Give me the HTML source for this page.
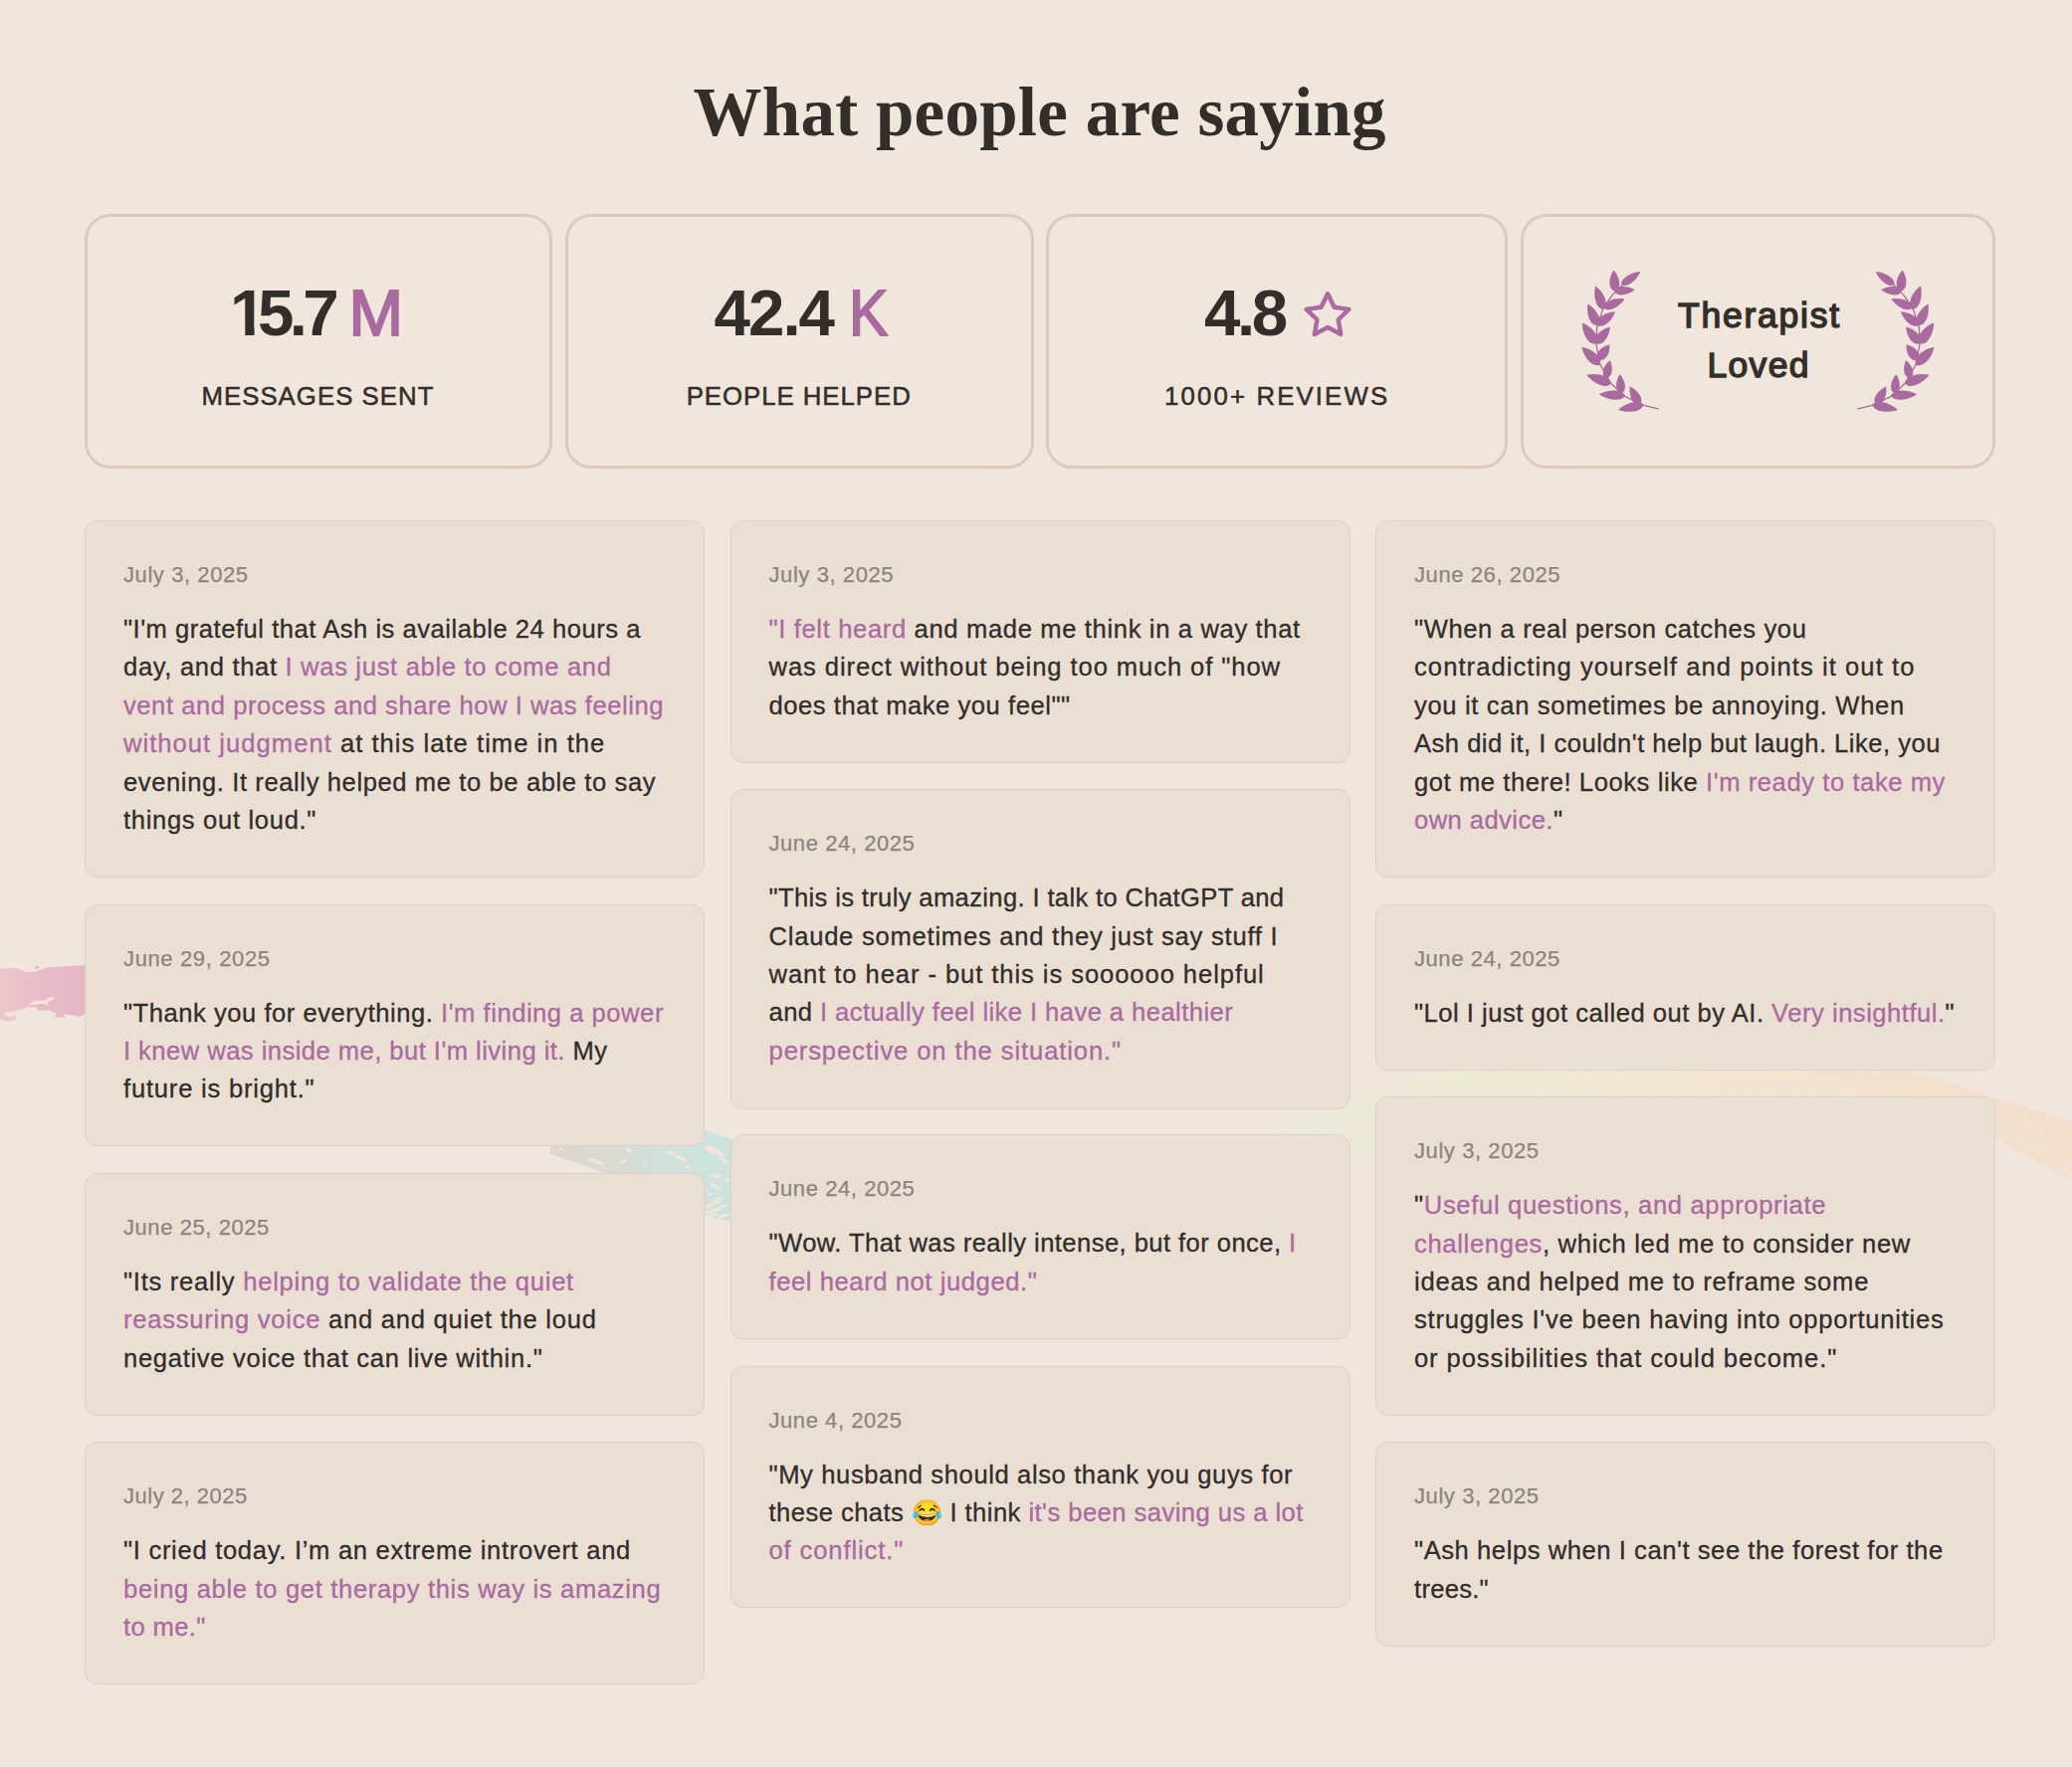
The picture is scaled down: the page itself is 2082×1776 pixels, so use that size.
<!DOCTYPE html>
<html lang="en"><head><meta charset="utf-8"><title>What people are saying</title>
<style>
*{box-sizing:border-box;margin:0;padding:0}
html,body{width:2082px;height:1776px;overflow:hidden}
body{background:#f0e6dc;font-family:"Liberation Sans",sans-serif;color:#332f2c;position:relative}
.a{position:absolute;white-space:nowrap;color:#332e2a}
.h1{font-family:"Liberation Serif",serif;font-weight:700;font-size:69px;line-height:90px}
.stat{position:absolute;top:215px;height:256px;border:3px solid #dccbbb;border-radius:26px}
.num{font-size:65.5px;line-height:80px;font-weight:700}
.one{display:inline-block;width:27.9px;letter-spacing:0;clip-path:polygon(0 0,40px 0,40px 55px,24.5px 55px,24.5px 80px,15.2px 80px,15.2px 55px,0 55px)}
.u{font-weight:400;color:#a96a9f;-webkit-text-stroke:2px #a96a9f}
.lab{font-size:25.8px;line-height:36px;-webkit-text-stroke:.5px #332e2a}
.tl{font-size:35.5px;line-height:50px;-webkit-text-stroke:1.4px #332e2a}
.card{position:absolute;width:623px;background:#ebdfd4;border:1px solid #ddd0c4;border-radius:12px;padding:37px 38px 0 38px}
.date{-webkit-text-stroke:.25px;font-size:22px;line-height:34px;color:#8c847d;letter-spacing:.35px;white-space:nowrap;margin-bottom:18px}
.q{font-size:25.6px;line-height:38.4px;white-space:nowrap;color:#312d2a;-webkit-text-stroke:.3px}
.q span{display:block;letter-spacing:.6px}
.q b{font-weight:400;color:#a96a9f}
.emo{font-style:normal;font-size:25px;letter-spacing:0;line-height:0}
.bg{position:absolute;left:0;top:0}
</style></head><body>
<svg class="bg" width="2082" height="1776" viewBox="0 0 2082 1776">
<defs>
<linearGradient id="gp" gradientUnits="userSpaceOnUse" x1="0" y1="0" x2="86" y2="0"><stop offset="0" stop-color="#edc7cc"/><stop offset=".55" stop-color="#e8b9c6"/><stop offset="1" stop-color="#e6b8c4"/></linearGradient>
<linearGradient id="gt" gradientUnits="userSpaceOnUse" x1="553" y1="0" x2="700" y2="0"><stop offset="0" stop-color="#dfd5cb"/><stop offset=".45" stop-color="#d8dad3"/><stop offset=".8" stop-color="#cfe1dc"/><stop offset="1" stop-color="#cde2dd"/></linearGradient>
<linearGradient id="gr" gradientUnits="userSpaceOnUse" x1="1270" y1="0" x2="2082" y2="0"><stop offset="0" stop-color="#e8ebd8"/><stop offset=".2" stop-color="#ecead3"/><stop offset=".45" stop-color="#f1e8ce"/><stop offset=".75" stop-color="#f3e0c8"/><stop offset="1" stop-color="#f3dcc6"/></linearGradient>
</defs>
<path d="M0 973.6L15.6 972.7L26.8 977L34.8 976.7L47.3 972.4L86 970L86 1018.4L80.3 1022.1L74 1020.6L62.9 1019.3L66 1022.5L54.8 1022.5L56.6 1017.5L52.9 1017.8L51.6 1015.6L38 1015.6L37.3 1012.8L29.2 1012.2L14.3 1016.5L2.5 1018.4L8.1 1022.1L15.6 1020.9L15.9 1024.6L8.1 1026.5L0 1024Z" fill="url(#gp)"/>
<path d="M29.2 1010.6L34.2 1006L46 1005.5L50 1002L55.4 1003.5L47 1008L49.8 1011.6L44 1009L36 1009.5Z" fill="#f0e6dc"/>
<rect x="35.2" y="970.8" width="3.6" height="3" fill="#e8b9c6"/>
<path d="M554 1140L720 1140L720 1200L667.6 1200L552.7 1159.5Z" fill="url(#gt)"/>
<path d="M700 1133L740 1146.5L740 1229L700 1220Z" fill="#cde2dd"/>
<g fill="#f0e6dc">
<ellipse cx="599" cy="1167.5" rx="9" ry="2.2" transform="rotate(18 599 1167.5)"/>
<ellipse cx="626" cy="1167.6" rx="3.6" ry="1.8" transform="rotate(-20 626 1167.6)"/>
<ellipse cx="632" cy="1156" rx="3.5" ry="1.5" transform="rotate(40 632 1156)"/>
<ellipse cx="674" cy="1158.8" rx="5" ry="1.8" transform="rotate(15 674 1158.8)"/>
<ellipse cx="685" cy="1164.5" rx="7" ry="2" transform="rotate(22 685 1164.5)"/>
<ellipse cx="691" cy="1173.5" rx="3.5" ry="1.2" transform="rotate(22 691 1173.5)"/>
<ellipse cx="648" cy="1170.5" rx="2.2" ry="1.2" transform="rotate(22 648 1170.5)"/>
<ellipse cx="563.5" cy="1154.5" rx="2" ry="1.2"/>
<ellipse cx="718" cy="1157" rx="11" ry="3.2" transform="rotate(27 718 1157)"/>
<ellipse cx="720" cy="1181.8" rx="5.5" ry="2" transform="rotate(5 720 1181.8)"/>
<ellipse cx="719" cy="1192.5" rx="7" ry="1.6" transform="rotate(30 719 1192.5)"/>
<ellipse cx="713" cy="1200" rx="3.5" ry="1" transform="rotate(20 713 1200)"/>
<ellipse cx="718" cy="1209.5" rx="8" ry="1.5" transform="rotate(-12 718 1209.5)"/>
<ellipse cx="716" cy="1217" rx="9" ry="1.6" transform="rotate(-14 716 1217)"/>
<ellipse cx="727" cy="1212.5" rx="5" ry="1.2" transform="rotate(-14 727 1212.5)"/>
<ellipse cx="714" cy="1221.5" rx="8" ry="1.8" transform="rotate(-10 714 1221.5)"/>
<ellipse cx="728" cy="1222" rx="6" ry="1.6" transform="rotate(-12 728 1222)"/>
<ellipse cx="722" cy="1205" rx="6" ry="1.2" transform="rotate(-16 722 1205)"/>
<ellipse cx="712" cy="1213" rx="4" ry="1.4" transform="rotate(-12 712 1213)"/>
<ellipse cx="727" cy="1166" rx="6" ry="1.6" transform="rotate(28 727 1166)"/>
<ellipse cx="730" cy="1186" rx="3" ry="1.2" transform="rotate(20 730 1186)"/>
</g>
<path d="M1262 1152Q1380 1075 1560 1062Q1800 1050 1921 1076L2082 1128L2082 1186L2005 1145Q1900 1105 1700 1108Q1500 1105 1390 1150L1330 1187Z" fill="url(#gr)" opacity=".8"/>
<g fill="none" stroke="#f0e6dc" opacity=".75">
<path d="M1270 1143Q1390 1075 1560 1067Q1800 1054 1960 1085L2082 1139" stroke-width="1.5" stroke-dasharray="16 10 24 48 6 6 34 6 16 34" stroke-dashoffset="64"/>
<path d="M1270 1149Q1390 1081 1560 1073Q1800 1060 1960 1091L2082 1145" stroke-width="1.5" stroke-dasharray="10 6 6 24 24 6 10 6 34 24" stroke-dashoffset="72"/>
<path d="M1270 1154Q1390 1086 1560 1078Q1800 1065 1960 1096L2082 1150" stroke-width="2" stroke-dasharray="6 10 48 48 34 6 34 34 24 6" stroke-dashoffset="5"/>
<path d="M1270 1159Q1390 1091 1560 1083Q1800 1070 1960 1101L2082 1155" stroke-width="2" stroke-dasharray="34 10 16 24 10 34 6 34 16 34" stroke-dashoffset="13"/>
<path d="M1270 1164Q1390 1096 1560 1088Q1800 1075 1960 1106L2082 1160" stroke-width="1.5" stroke-dasharray="34 34 48 10 16 6 34 48 6 34" stroke-dashoffset="79"/>
<path d="M1270 1169Q1390 1101 1560 1093Q1800 1080 1960 1111L2082 1165" stroke-width="2.5" stroke-dasharray="10 24 48 34 24 16 24 34 24 16" stroke-dashoffset="31"/>
<path d="M1270 1174Q1390 1106 1560 1098Q1800 1085 1960 1116L2082 1170" stroke-width="3" stroke-dasharray="10 48 10 6 34 16 34 24 16 48" stroke-dashoffset="36"/>
<path d="M1270 1179Q1390 1111 1560 1103Q1800 1090 1960 1121L2082 1175" stroke-width="1.5" stroke-dasharray="34 6 6 34 24 10 16 10 24 24" stroke-dashoffset="85"/>
<path d="M1270 1185Q1390 1117 1560 1109Q1800 1096 1960 1127L2082 1181" stroke-width="3" stroke-dasharray="6 34 34 16 16 48 16 34 24 34" stroke-dashoffset="8"/>
</g>
</svg>
<h1 id="h1" class="a h1" style="left:696.6px;top:67.5px;letter-spacing:0.253px;">What people are saying</h1>
<div class="stat" style="left:85px;width:470px"></div>
<div class="stat" style="left:568px;width:471px"></div>
<div class="stat" style="left:1051px;width:464px"></div>
<div class="stat" style="left:1528px;width:477px"></div>
<div id="n1" class="a num" style="left:231.1px;top:274.5px;letter-spacing:-4.7px;"><span class="one">1</span>5.7</div>
<div id="u1" class="a num u" style="left:350.4px;top:274.5px;">M</div>
<div id="n2" class="a num" style="left:717.6px;top:274.5px;letter-spacing:-2.028px;">42.4</div>
<div id="u2" class="a num u" style="left:852.6px;top:274.5px;transform:scaleX(.9);transform-origin:0 0;">K</div>
<div id="n3" class="a num" style="left:1210px;top:274.5px;letter-spacing:-3.381px;">4.8</div>
<div id="l1" class="a lab" style="left:202.4px;top:380px;letter-spacing:1.028px;">MESSAGES SENT</div>
<div id="l2" class="a lab" style="left:689.7px;top:380px;letter-spacing:0.955px;">PEOPLE HELPED</div>
<div id="l3" class="a lab" style="left:1170.1px;top:380px;letter-spacing:2.117px;">1000+ REVIEWS</div>
<div id="t1" class="a tl" style="left:1686px;top:292.4px;letter-spacing:1.752px;">Therapist</div>
<div id="t2" class="a tl" style="left:1715.5px;top:342.4px;letter-spacing:1.316px;">Loved</div>
<svg style="position:absolute;left:1304px;top:288px" width="60" height="56" viewBox="0 0 60 56"><polygon points="30.10,7.30 36.68,20.74 51.50,22.85 40.75,33.26 43.33,48.00 30.10,41.00 16.87,48.00 19.45,33.26 8.70,22.85 23.52,20.74" fill="none" stroke="#a96a9f" stroke-width="4.4" stroke-linejoin="round"/></svg>
<svg style="position:absolute;left:1570px;top:250px" width="120" height="180" viewBox="0 0 120 180"><path d="M53.0 42.6C60.4 39.5 57.4 27.8 51.4 21.4C46.5 28.6 45.3 40.6 53.0 42.6ZM41.5 60.9C47.6 55.5 40.9 42.9 33.1 37.2C30.7 46.6 33.4 60.6 41.5 60.9ZM35.5 77.1C41.1 71.4 33.6 60.2 25.5 55.5C23.8 64.7 27.4 77.7 35.5 77.1ZM34.1 95.4C39.0 88.4 29.1 77.9 19.9 74.4C19.7 84.3 25.8 97.3 34.1 95.4ZM37.8 116.7C41.1 108.8 29.2 100.4 19.4 98.8C21.3 108.6 30.0 120.2 37.8 116.7ZM48.6 135.8C48.4 127.6 34.1 124.6 24.4 126.8C30.3 134.8 43.1 141.8 48.6 135.8ZM63.0 147.8C60.2 140.4 45.4 141.6 36.7 146.2C44.8 151.8 59.4 154.7 63.0 147.8ZM81.3 156.7C76.8 150.3 63.1 155.3 56.0 162.0C65.2 165.3 79.7 164.3 81.3 156.7ZM59.4 36.1C65.3 39.8 75.0 30.9 78.4 22.9C69.8 23.4 58.1 29.3 59.4 36.1ZM52.2 42.8C55.1 49.0 66.6 46.3 72.8 41.3C65.9 37.2 54.2 36.3 52.2 42.8ZM41.5 59.4C46.7 64.5 57.8 57.8 62.6 50.4C54.0 48.8 41.4 52.1 41.5 59.4ZM35.0 76.9C41.5 80.9 50.3 71.6 53.0 63.2C44.1 63.5 32.8 69.6 35.0 76.9ZM33.6 95.4C41.1 98.2 47.4 87.3 47.9 78.4C39.2 80.4 29.5 88.5 33.6 95.4ZM36.2 111.7C43.6 114.3 48.2 104.4 47.4 96.3C39.4 98.0 31.4 105.4 36.2 111.7ZM43.6 130.2C50.7 129.5 51.2 119.0 47.9 112.1C41.8 116.7 37.6 126.4 43.6 130.2ZM59.1 145.5C65.7 142.6 62.9 132.0 57.6 126.3C53.2 132.8 52.2 143.7 59.1 145.5ZM77.8 156.6C82.8 150.9 75.4 141.8 67.7 138.5C66.5 146.8 70.4 157.9 77.8 156.6Z" fill="#a96a9f"/><path d="M96.3 160.9 L81.5 157.4 L63.2 148.7 L48.9 135.5 L37.7 116.1 L34.1 96.8 L34.6 79.5 L40.7 60.1 L49.9 46.9 L61.1 35.7" fill="none" stroke="#a96a9f" stroke-width="1.3" stroke-linejoin="round" stroke-linecap="round"/>
</svg>
<svg style="position:absolute;left:1843px;top:250px" width="120" height="180" viewBox="0 0 120 180"><g transform="translate(120,0) scale(-1,1)"><path d="M53.0 42.6C60.4 39.5 57.4 27.8 51.4 21.4C46.5 28.6 45.3 40.6 53.0 42.6ZM41.5 60.9C47.6 55.5 40.9 42.9 33.1 37.2C30.7 46.6 33.4 60.6 41.5 60.9ZM35.5 77.1C41.1 71.4 33.6 60.2 25.5 55.5C23.8 64.7 27.4 77.7 35.5 77.1ZM34.1 95.4C39.0 88.4 29.1 77.9 19.9 74.4C19.7 84.3 25.8 97.3 34.1 95.4ZM37.8 116.7C41.1 108.8 29.2 100.4 19.4 98.8C21.3 108.6 30.0 120.2 37.8 116.7ZM48.6 135.8C48.4 127.6 34.1 124.6 24.4 126.8C30.3 134.8 43.1 141.8 48.6 135.8ZM63.0 147.8C60.2 140.4 45.4 141.6 36.7 146.2C44.8 151.8 59.4 154.7 63.0 147.8ZM81.3 156.7C76.8 150.3 63.1 155.3 56.0 162.0C65.2 165.3 79.7 164.3 81.3 156.7ZM59.4 36.1C65.3 39.8 75.0 30.9 78.4 22.9C69.8 23.4 58.1 29.3 59.4 36.1ZM52.2 42.8C55.1 49.0 66.6 46.3 72.8 41.3C65.9 37.2 54.2 36.3 52.2 42.8ZM41.5 59.4C46.7 64.5 57.8 57.8 62.6 50.4C54.0 48.8 41.4 52.1 41.5 59.4ZM35.0 76.9C41.5 80.9 50.3 71.6 53.0 63.2C44.1 63.5 32.8 69.6 35.0 76.9ZM33.6 95.4C41.1 98.2 47.4 87.3 47.9 78.4C39.2 80.4 29.5 88.5 33.6 95.4ZM36.2 111.7C43.6 114.3 48.2 104.4 47.4 96.3C39.4 98.0 31.4 105.4 36.2 111.7ZM43.6 130.2C50.7 129.5 51.2 119.0 47.9 112.1C41.8 116.7 37.6 126.4 43.6 130.2ZM59.1 145.5C65.7 142.6 62.9 132.0 57.6 126.3C53.2 132.8 52.2 143.7 59.1 145.5ZM77.8 156.6C82.8 150.9 75.4 141.8 67.7 138.5C66.5 146.8 70.4 157.9 77.8 156.6Z" fill="#a96a9f"/><path d="M96.3 160.9 L81.5 157.4 L63.2 148.7 L48.9 135.5 L37.7 116.1 L34.1 96.8 L34.6 79.5 L40.7 60.1 L49.9 46.9 L61.1 35.7" fill="none" stroke="#a96a9f" stroke-width="1.3" stroke-linejoin="round" stroke-linecap="round"/>
</g></svg>
<div class="card" style="left:85px;top:523px;height:359.0px"><div class="date" id="d10" style="letter-spacing:0.578px;">July 3, 2025</div><div class="q"><span id="q100" style="letter-spacing:0.514px">"I'm grateful that Ash is available 24 hours a</span>
<span id="q101" style="letter-spacing:0.666px">day, and that <b>I was just able to come and</b></span>
<span id="q102" style="letter-spacing:0.537px"><b>vent and process and share how I was feeling</b></span>
<span id="q103" style="letter-spacing:1.021px"><b>without judgment</b> at this late time in the</span>
<span id="q104" style="letter-spacing:0.593px">evening. It really helped me to be able to say</span>
<span id="q105" style="letter-spacing:0.67px">things out loud."</span>
</div></div>
<div class="card" style="left:85px;top:908.6px;height:243.8px"><div class="date" id="d11" style="letter-spacing:0.628px;">June 29, 2025</div><div class="q"><span id="q110" style="letter-spacing:0.52px">"Thank you for everything. <b>I'm finding a power</b></span>
<span id="q111" style="letter-spacing:0.449px"><b>I knew was inside me, but I'm living it.</b> My</span>
<span id="q112" style="letter-spacing:0.784px">future is bright."</span>
</div></div>
<div class="card" style="left:85px;top:1179px;height:243.8px"><div class="date" id="d12" style="letter-spacing:0.569px;">June 25, 2025</div><div class="q"><span id="q120" style="letter-spacing:0.727px">"Its really <b>helping to validate the quiet</b></span>
<span id="q121" style="letter-spacing:0.74px"><b>reassuring voice</b> and and quiet the loud</span>
<span id="q122" style="letter-spacing:0.687px">negative voice that can live within."</span>
</div></div>
<div class="card" style="left:85px;top:1449.4px;height:243.8px"><div class="date" id="d13" style="letter-spacing:0.514px;">July 2, 2025</div><div class="q"><span id="q130" style="letter-spacing:0.694px">"I cried today. I’m an extreme introvert and</span>
<span id="q131" style="letter-spacing:0.658px"><b>being able to get therapy this way is amazing</b></span>
<span id="q132" style="letter-spacing:0.347px"><b>to me."</b></span>
</div></div>
<div class="card" style="left:733.5px;top:523px;height:243.8px"><div class="date" id="d20" style="letter-spacing:0.578px;">July 3, 2025</div><div class="q"><span id="q200" style="letter-spacing:0.638px"><b>"I felt heard</b> and made me think in a way that</span>
<span id="q201" style="letter-spacing:0.911px">was direct without being too much of "how</span>
<span id="q202" style="letter-spacing:0.528px">does that make you feel""</span>
</div></div>
<div class="card" style="left:733.5px;top:793.2px;height:321.6px"><div class="date" id="d21" style="letter-spacing:0.569px;">June 24, 2025</div><div class="q"><span id="q210" style="letter-spacing:0.35px">"This is truly amazing. I talk to ChatGPT and</span>
<span id="q211" style="letter-spacing:0.75px">Claude sometimes and they just say stuff I</span>
<span id="q212" style="letter-spacing:0.92px">want to hear - but this is soooooo helpful</span>
<span id="q213" style="letter-spacing:0.429px">and <b>I actually feel like I have a healthier</b></span>
<span id="q214" style="letter-spacing:0.893px"><b>perspective on the situation."</b></span>
</div></div>
<div class="card" style="left:733.5px;top:1140.2px;height:205.4px"><div class="date" id="d22" style="letter-spacing:0.569px;">June 24, 2025</div><div class="q"><span id="q220" style="letter-spacing:0.43px">"Wow. That was really intense, but for once, <b>I</b></span>
<span id="q221" style="letter-spacing:0.573px"><b>feel heard not judged."</b></span>
</div></div>
<div class="card" style="left:733.5px;top:1372.5px;height:243.8px"><div class="date" id="d23" style="letter-spacing:0.561px;">June 4, 2025</div><div class="q"><span id="q230" style="letter-spacing:0.601px">"My husband should also thank you guys for</span>
<span id="q231" style="letter-spacing:0.447px">these chats <i class="emo">😂</i> I think <b>it's been saving us a lot</b></span>
<span id="q232" style="letter-spacing:0.874px"><b>of conflict."</b></span>
</div></div>
<div class="card" style="left:1382px;top:523px;height:359.0px"><div class="date" id="d30" style="letter-spacing:0.594px;">June 26, 2025</div><div class="q"><span id="q300" style="letter-spacing:0.592px">"When a real person catches you</span>
<span id="q301" style="letter-spacing:1.054px">contradicting yourself and points it out to</span>
<span id="q302" style="letter-spacing:0.652px">you it can sometimes be annoying. When</span>
<span id="q303" style="letter-spacing:0.483px">Ash did it, I couldn't help but laugh. Like, you</span>
<span id="q304" style="letter-spacing:0.567px">got me there! Looks like <b>I'm ready to take my</b></span>
<span id="q305" style="letter-spacing:0.432px"><b>own advice.</b>"</span>
</div></div>
<div class="card" style="left:1382px;top:908.6px;height:167.0px"><div class="date" id="d31" style="letter-spacing:0.569px;">June 24, 2025</div><div class="q"><span id="q310" style="letter-spacing:0.503px">"Lol I just got called out by AI. <b>Very insightful.</b>"</span>
</div></div>
<div class="card" style="left:1382px;top:1102.2px;height:320.6px"><div class="date" id="d32" style="letter-spacing:0.578px;">July 3, 2025</div><div class="q"><span id="q320" style="letter-spacing:0.657px">"<b>Useful questions, and appropriate</b></span>
<span id="q321" style="letter-spacing:0.666px"><b>challenges</b>, which led me to consider new</span>
<span id="q322" style="letter-spacing:0.745px">ideas and helped me to reframe some</span>
<span id="q323" style="letter-spacing:0.754px">struggles I've been having into opportunities</span>
<span id="q324" style="letter-spacing:0.888px">or possibilities that could become."</span>
</div></div>
<div class="card" style="left:1382px;top:1449.4px;height:205.4px"><div class="date" id="d33" style="letter-spacing:0.578px;">July 3, 2025</div><div class="q"><span id="q330" style="letter-spacing:0.553px">"Ash helps when I can't see the forest for the</span>
<span id="q331" style="letter-spacing:0.265px">trees."</span>
</div></div>
</body></html>
